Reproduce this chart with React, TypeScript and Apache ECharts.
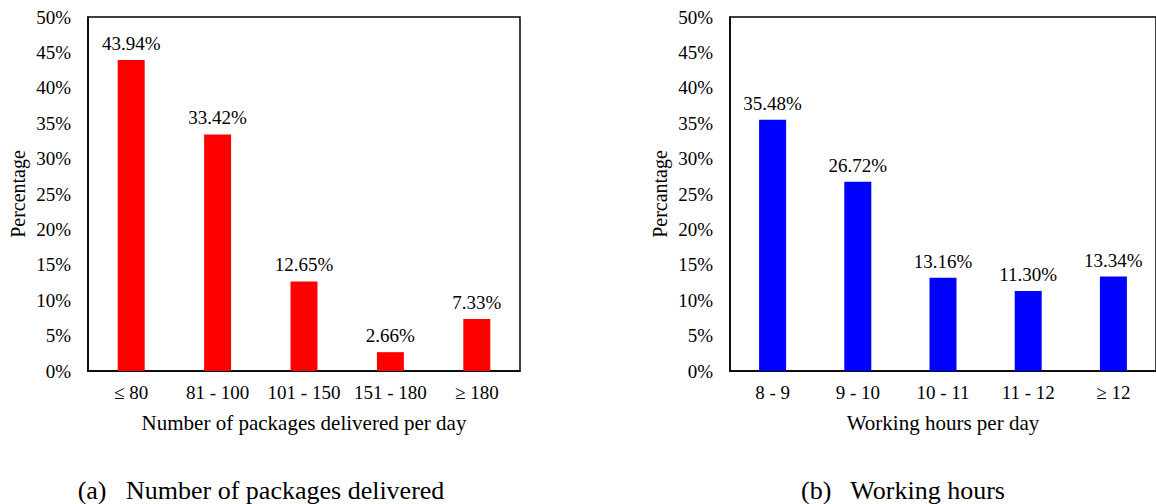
import React, { useEffect, useRef } from "react";
import * as echarts from "echarts";

// Panel (a): packages delivered per day
const packageBins = ["≤ 80", "81 - 100", "101 - 150", "151 - 180", "≥ 180"];
const packageShares = [43.94, 33.42, 12.65, 2.66, 7.33];

// Panel (b): working hours per day
const hourBins = ["8 - 9", "9 - 10", "10 - 11", "11 - 12", "≥ 12"];
const hourShares = [35.48, 26.72, 13.16, 11.3, 13.34];

const yTicks = { min: 0, max: 50, interval: 5 };

const SERIF = "Liberation Serif";
const INK = "#000";

function makeAxes(names: string[], xName: string, yName: string, gridIndex: number) {
  const xAxis = {
    type: "category",
    gridIndex,
    data: names,
    axisTick: { show: false },
    axisLine: { show: true, lineStyle: { color: INK, width: 1.5 } },
    axisLabel: { color: INK, fontFamily: SERIF, fontSize: 19, margin: 12, interval: 0 },
    name: xName,
    nameLocation: "middle",
    nameGap: 41,
    nameTextStyle: { color: INK, fontFamily: SERIF, fontSize: 21 },
  };
  const yAxis = {
    type: "value",
    gridIndex,
    min: yTicks.min,
    max: yTicks.max,
    interval: yTicks.interval,
    splitLine: { show: false },
    axisTick: { show: false },
    axisLine: { show: true, lineStyle: { color: INK, width: 1.5 } },
    axisLabel: {
      color: INK,
      fontFamily: SERIF,
      fontSize: 19,
      margin: 17,
      formatter: "{value}%",
    },
    name: yName,
    nameLocation: "middle",
    nameRotate: 90,
    nameGap: 60,
    nameTextStyle: { color: INK, fontFamily: SERIF, fontSize: 20 },
  };
  return { xAxis, yAxis };
}

function barSeries(values: number[], color: string, idx: number) {
  return {
    type: "bar",
    xAxisIndex: idx,
    yAxisIndex: idx,
    data: values,
    barWidth: 27,
    itemStyle: { color },
    label: {
      show: true,
      position: "top",
      distance: 7,
      color: INK,
      fontFamily: SERIF,
      fontSize: 19,
      formatter: (p: any) => `${Number(p.value).toFixed(2)}%`,
    },
  };
}

function caption(text: string, cx: number) {
  return {
    type: "text",
    x: cx,
    y: 490,
    style: {
      text,
      fill: INK,
      fontFamily: SERIF,
      fontSize: 26,
      verticalAlign: "middle",
      align: "center",
    },
  };
}

export default function App() {
  const ref = useRef<HTMLDivElement>(null);

  useEffect(() => {
    if (!ref.current) return;
    const chart = echarts.init(ref.current, null, { renderer: "svg" });

    const a = makeAxes(packageBins, "Number of packages delivered per day", "Percentage", 0);
    const b = makeAxes(hourBins, "Working hours per day", "Percantage", 1);

    chart.setOption({
      animation: false,
      backgroundColor: "#fff",
      grid: [
        { left: 88, top: 17, width: 432, height: 354, show: true, borderColor: INK, borderWidth: 1.5, backgroundColor: "transparent" },
        { left: 730, top: 17, width: 432, height: 354, show: true, borderColor: INK, borderWidth: 1.5, backgroundColor: "transparent" },
      ],
      xAxis: [a.xAxis, b.xAxis],
      yAxis: [a.yAxis, b.yAxis],
      series: [barSeries(packageShares, "#ff0000", 0), barSeries(hourShares, "#0000ff", 1)],
      graphic: [
        caption("(a)   Number of packages delivered", 261),
        caption("(b)   Working hours", 903),
      ],
    });

    return () => chart.dispose();
  }, []);

  return (
    <div
      ref={ref}
      style={{ position: "fixed", left: 0, top: 0, width: 1156, height: 504 }}
    />
  );
}
